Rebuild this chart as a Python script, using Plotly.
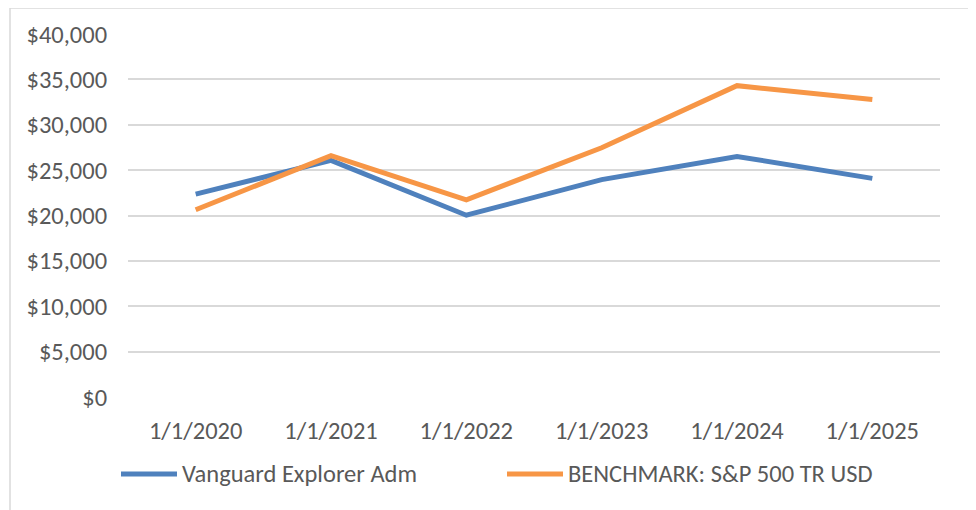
import plotly.graph_objects as go

categories = ["1/1/2020", "1/1/2021", "1/1/2022", "1/1/2023", "1/1/2024", "1/1/2025"]
vanguard = [22360, 26070, 20030, 23950, 26510, 24090]
benchmark = [20630, 26590, 21730, 27470, 34310, 32770]
series_names = ["Vanguard Explorer Adm", "BENCHMARK: S&P 500 TR USD"]
series_colors = ["#4F81BD", "#F79646"]
y_ticks = [0, 5000, 10000, 15000, 20000, 25000, 30000, 35000, 40000]
y_tick_labels = ["$0", "$5,000", "$10,000", "$15,000", "$20,000", "$25,000", "$30,000", "$35,000", "$40,000"]

FONT = "Calibri, Carlito, Lato, sans-serif"
FS = 24.5
TEXT = "#595959"

W, H = 976, 510
OFF = 8  # page offset of the figure (body margin)
# target plot area in page pixels: x 128..940, y 34..397
ml = 128 - OFF
mt = 34 - OFF
mr = W - (940 - OFF)
mb = H - (397 - OFF)
pw, ph = W - ml - mr, H - mt - mb


def px(xpage):
    return (xpage - OFF - ml) / pw


def py(ypage):
    return (H - mb - (ypage - OFF)) / ph


fig = go.Figure()
for name, vals, col in zip(series_names, [vanguard, benchmark], series_colors):
    fig.add_trace(go.Scatter(x=categories, y=vals, mode="lines", name=name,
                             line=dict(color=col, width=5), showlegend=False))

# legend drawn as line swatches + text
legend_x = [121, 507]
legend_y = 474
shapes = [dict(type="rect", xref="paper", yref="paper",
               x0=px(10), x1=px(970), y0=py(540), y1=py(8),
               line=dict(color="#D9D9D9", width=1.5), fillcolor="rgba(0,0,0,0)", layer="below")]
annotations = []
for name, col, lx in zip(series_names, series_colors, legend_x):
    shapes.append(dict(type="line", xref="paper", yref="paper",
                       x0=px(lx), x1=px(lx + 56), y0=py(legend_y), y1=py(legend_y),
                       line=dict(color=col, width=5)))
    annotations.append(dict(xref="paper", yref="paper", x=px(lx + 59), y=py(legend_y),
                            xanchor="left", yanchor="middle", text=name, showarrow=False,
                            font=dict(family=FONT, size=FS, color=TEXT)))

fig.update_layout(
    width=W, height=H,
    margin=dict(l=ml, r=mr, t=mt, b=mb),
    paper_bgcolor="white", plot_bgcolor="white",
    font=dict(family=FONT, size=FS, color=TEXT),
    showlegend=False,
    xaxis=dict(type="category", range=[-0.5, 5.5], showgrid=False, zeroline=False,
               showline=False, ticks="outside", ticklen=12, tickcolor="rgba(0,0,0,0)",
               automargin=False, tickfont=dict(family=FONT, size=FS, color=TEXT)),
    yaxis=dict(range=[0, 40000], tickvals=y_ticks, ticktext=y_tick_labels,
               showgrid=True, gridcolor="#D9D9D9", gridwidth=1.5, zeroline=False,
               showline=False, ticks="outside", ticklen=15, tickcolor="rgba(0,0,0,0)",
               automargin=False, tickfont=dict(family=FONT, size=FS, color=TEXT)),
    shapes=shapes,
    annotations=annotations,
)

fig.write_html("out.html")
